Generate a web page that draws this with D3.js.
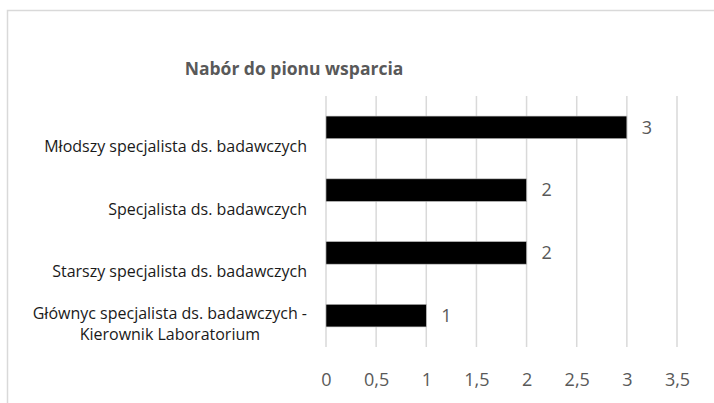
<!DOCTYPE html>
<html>
<head>
<meta charset="utf-8">
<script src="https://cdn.jsdelivr.net/npm/d3@7"></script>
<style>
  body { margin: 0; background: #fff; }
  svg { display: block; font-family: "Open Sans", "Noto Sans", sans-serif; }
</style>
</head>
<body>
<div id="chart"></div>
<script>
const title = 'Nabór do pionu wsparcia';
const categories = [
    ['Młodszy specjalista ds. badawczych'],
    ['Specjalista ds. badawczych'],
    ['Starszy specjalista ds. badawczych'],
    ['Głównyc specjalista ds. badawczych -', 'Kierownik Laboratorium']
];
const values = [3, 2, 2, 1];
const xTicks = [0, 0.5, 1, 1.5, 2, 2.5, 3, 3.5];

const width = 714;
const height = 403;
const margins = { left: 326, right: 37, top: 96, bottom: 56 };

const svg = d3.select('#chart').append('svg')
    .attr('width', width)
    .attr('height', height);

// chart area border (cut off at the right and bottom in the original)
svg.append('rect')
    .attr('x', 7.5).attr('y', 10.5)
    .attr('width', 800).attr('height', 500)
    .attr('fill', '#fff')
    .attr('stroke', '#d9d9d9')
    .attr('stroke-width', 1.5);

svg.append('text')
    .attr('x', 294)
    .attr('y', 75)
    .attr('text-anchor', 'middle')
    .attr('font-size', 17.5)
    .attr('font-weight', 'bold')
    .attr('fill', '#595959')
    .text(title);

const xScale = d3.scaleLinear()
    .domain([0, 3.5])
    .range([margins.left, width - margins.right]);

const keys = categories.map(c => c.join(' '));
const yScale = d3.scaleBand()
    .domain(keys)
    .range([margins.top, height - margins.bottom])
    .paddingInner(0.64)
    .paddingOuter(0.32);

const chart = svg.append('g');

chart.selectAll('.grid')
    .data(xTicks)
    .enter()
    .append('line')
    .attr('class', 'grid')
    .attr('x1', d => xScale(d))
    .attr('x2', d => xScale(d))
    .attr('y1', margins.top)
    .attr('y2', height - margins.bottom)
    .attr('stroke', '#d9d9d9')
    .attr('stroke-width', 1.5);

const xAxis = d3.axisBottom(xScale)
    .tickValues(xTicks)
    .tickSize(0)
    .tickPadding(0)
    .tickFormat(d => String(d).replace('.', ','));

const xAxisG = chart.append('g')
    .attr('transform', `translate(0, ${height - margins.bottom + 26})`)
    .call(xAxis);
xAxisG.select('.domain').remove();
xAxisG.selectAll('text')
    .attr('font-family', '"Open Sans", "Noto Sans", sans-serif')
    .attr('font-size', 18)
    .attr('fill', '#595959');

chart.selectAll('.bar')
    .data(values)
    .enter()
    .append('rect')
    .attr('class', 'bar')
    .attr('x', xScale(0))
    .attr('y', (d, i) => yScale(keys[i]))
    .attr('width', d => xScale(d) - xScale(0))
    .attr('height', yScale.bandwidth())
    .attr('fill', '#000')
    .attr('stroke', '#bfbfbf')
    .attr('stroke-width', 0.6);

chart.selectAll('.value')
    .data(values)
    .enter()
    .append('text')
    .attr('class', 'value')
    .attr('x', d => xScale(d) + 15)
    .attr('y', (d, i) => yScale(keys[i]) + yScale.bandwidth() / 2)
    .attr('dy', '0.35em')
    .attr('font-size', 18)
    .attr('fill', '#595959')
    .text(d => d);

const labelX = 307;
const labels = chart.selectAll('.cat')
    .data(categories)
    .enter()
    .append('text')
    .attr('class', 'cat')
    .attr('font-size', 16)
    .attr('fill', '#1a1a1a')
    .attr('text-anchor', d => d.length > 1 ? 'middle' : 'end');

labels.each(function(lines, i) {
    const mid = yScale(keys[i]) + yScale.bandwidth() / 2 + 19;
    const el = d3.select(this);
    lines.forEach((line, j) => {
        el.append('tspan')
            .attr('x', 0)
            .attr('y', mid - (lines.length - 1 - j) * 21.7)
            .attr('dy', '0.35em')
            .text(line);
    });
    // multi-line labels are centred as a block, right edge on labelX
    const w = lines.length > 1 ? this.getBBox().width : 0;
    el.selectAll('tspan').attr('x', labelX - w / 2);
});
</script>
</body>
</html>
